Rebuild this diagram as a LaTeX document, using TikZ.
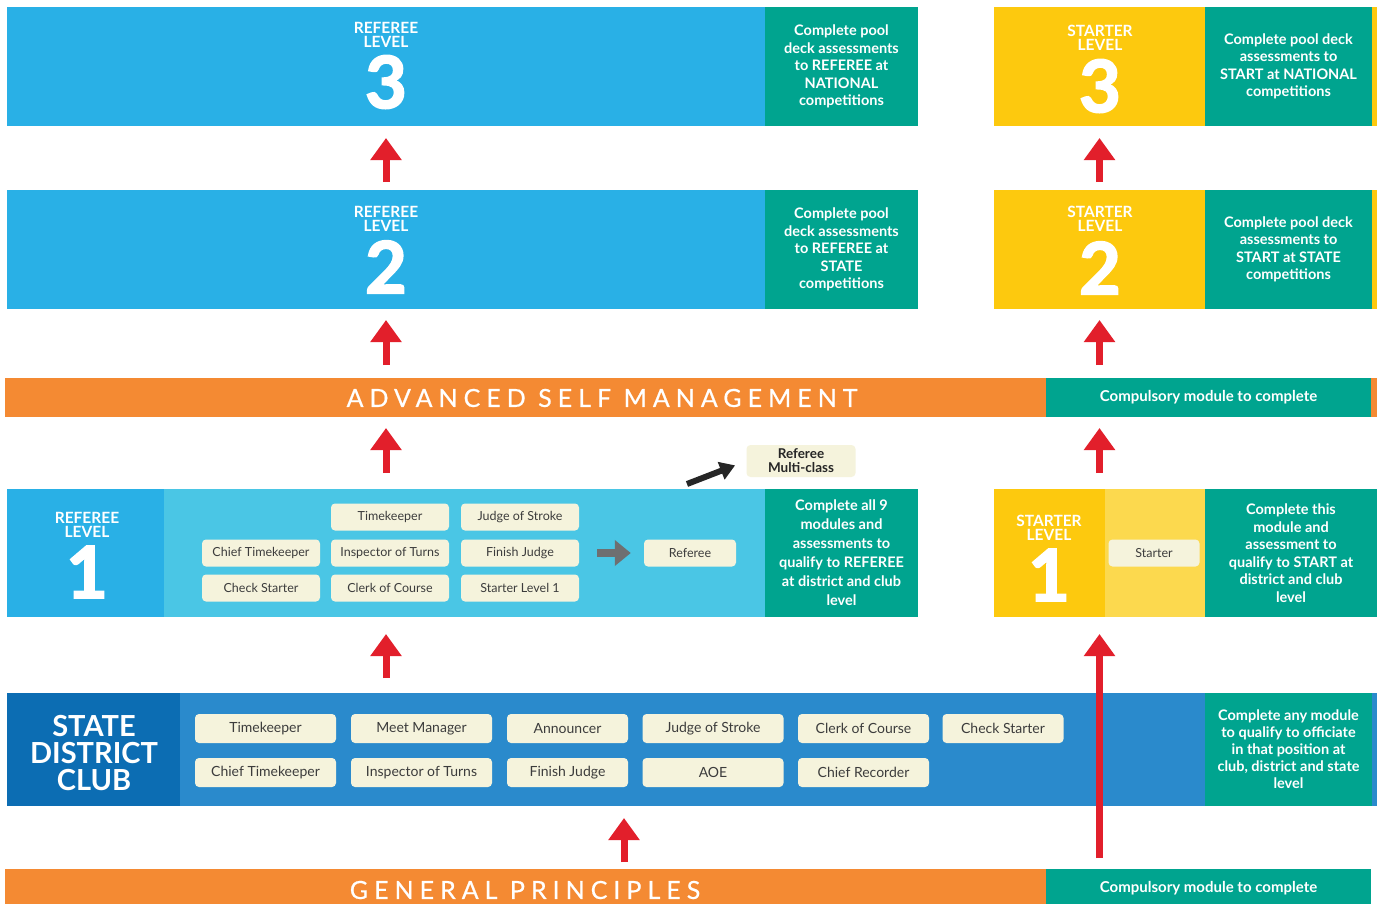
\documentclass[tikz,border=0pt]{standalone}
\usepackage{fontspec}
\setmainfont{Lato}
\newfontfamily\spacedfont{Lato}[LetterSpace=24, FakeBold=0.6]
\newfontfamily\numfont{Lato}[BoldFeatures={FakeBold=2.5}]
\usetikzlibrary{arrows.meta, positioning}

\definecolor{refblue}{HTML}{29B0E6}
\definecolor{reflight}{HTML}{4AC6E5}
\definecolor{tealbox}{HTML}{00A48F}
\definecolor{startyellow}{HTML}{FDC90E}
\definecolor{startlight}{HTML}{FCD94E}
\definecolor{bandorange}{HTML}{F48A33}
\definecolor{sdcdark}{HTML}{0C6DB3}
\definecolor{sdcmid}{HTML}{2A8ACC}
\definecolor{modcream}{HTML}{F5F3DC}
\definecolor{arrowred}{HTML}{E21F2B}
\definecolor{nextgray}{HTML}{6E6F71}
\definecolor{modtext}{HTML}{3C3C3C}

\tikzset{
  band/.style={draw=none, inner sep=0pt, outer sep=0pt},
  tealnote/.style={band, fill=tealbox, text=white, align=center,
    font=\bfseries\fontsize{14.5}{17.5}\selectfont},
  levelhead/.style={text=white, align=center, inner sep=0pt,
    font=\bfseries\fontsize{15.5}{14}\selectfont},
  levelnum/.style={text=white, inner sep=0pt, font=\numfont\bfseries\fontsize{72}{72}\selectfont},
  bandtitle/.style={text=white, inner sep=0pt, font=\spacedfont\fontsize{25}{25}\selectfont},
  module/.style={fill=modcream, rounded corners=4pt, inner sep=0pt, text=modtext,
    minimum width=118pt, minimum height=27pt, font=\fontsize{12.5}{14}\selectfont},
  sdcmodule/.style={module, minimum width=141pt, minimum height=29pt,
    font=\fontsize{14}{15}\selectfont},
  uparrow/.style={draw=arrowred, line width=7pt, -{Triangle[width=30pt,length=22pt]}},
  nextarrow/.style={draw=nextgray, line width=8pt, -{Triangle[width=25pt,length=16pt]}},
  mcarrow/.style={draw=black!85, line width=6pt, -{Triangle[width=18pt,length=15pt]}},
}

\begin{document}
\begin{tikzpicture}[x=1pt, y=-1pt]

	\clip (0,0) rectangle (1380,903);
	\fill[white] (0,0) rectangle (1380,903);

	% referee level 3 (top left)
	\node[band, fill=refblue, minimum width=758pt, minimum height=119pt] (ref3) at (386,66.5) {};
	\node[tealnote, minimum width=153pt, minimum height=119pt, right=0pt of ref3] (ref3note)
		{Complete pool\\deck assessments\\to REFEREE at\\NATIONAL\\competitions};
	\node[levelhead] (ref3head) at (386,35) {REFEREE\\LEVEL};
	\node[levelnum] (ref3num) at (386,82) {3};

	% starter level 3 (top right)
	\fill[startyellow] (1368,7) rectangle (1377,126);
	\node[band, fill=startyellow, minimum width=211pt, minimum height=119pt] (st3) at (1099.5,66.5) {};
	\node[tealnote, minimum width=167pt, minimum height=119pt, right=0pt of st3] (st3note)
		{Complete pool deck\\assessments to\\START at NATIONAL\\competitions};
	\node[levelhead] (st3head) at (1100,38) {STARTER\\LEVEL};
	\node[levelnum] (st3num) at (1100,86) {3};

	% referee level 2
	\node[band, fill=refblue, minimum width=758pt, minimum height=119pt] (ref2) at (386,249.5) {};
	\node[tealnote, minimum width=153pt, minimum height=119pt, right=0pt of ref2] (ref2note)
		{Complete pool\\deck assessments\\to REFEREE at\\STATE\\competitions};
	\node[levelhead] (ref2head) at (386,219) {REFEREE\\LEVEL};
	\node[levelnum] (ref2num) at (386,267) {2};

	% starter level 2
	\fill[startyellow] (1368,190) rectangle (1377,309);
	\node[band, fill=startyellow, minimum width=211pt, minimum height=119pt] (st2) at (1099.5,249.5) {};
	\node[tealnote, minimum width=167pt, minimum height=119pt, right=0pt of st2] (st2note)
		{Complete pool deck\\assessments to\\START at STATE\\competitions};
	\node[levelhead] (st2head) at (1100,219) {STARTER\\LEVEL};
	\node[levelnum] (st2num) at (1100,268) {2};

	% advanced self management band
	\fill[bandorange] (1368,378) rectangle (1377,417);
	\node[band, fill=bandorange, minimum width=1041pt, minimum height=39pt] (asm) at (525.5,397.5) {};
	\node[band, fill=tealbox, minimum width=325pt, minimum height=39pt, right=0pt of asm,
		text=white, font=\bfseries\fontsize{15}{16}\selectfont] (asmnote) {Compulsory module to complete};
	\node[bandtitle] (asmtitle) at (602,398) {ADVANCED SELF MANAGEMENT};

	% referee level 1
	\node[band, fill=reflight, minimum width=758pt, minimum height=128pt] (ref1) at (386,553) {};
	\node[band, fill=refblue, minimum width=157pt, minimum height=128pt, anchor=west] (ref1side) at (ref1.west) {};
	\node[tealnote, minimum width=153pt, minimum height=128pt, right=0pt of ref1,
		font=\bfseries\fontsize{14.5}{19}\selectfont] (ref1note)
		{Complete all 9\\modules and\\assessments to\\qualify to REFEREE\\at district and club\\level};
	\node[levelhead] (ref1head) at (87,525) {REFEREE\\LEVEL};
	\node[levelnum] (ref1num) at (87,572) {1};

	% level 1 modules
	\node[module] (l1time) at (390,517) {Timekeeper};
	\node[module] (l1stroke) at (520,517) {Judge of Stroke};
	\node[module] (l1chief) at (261,553) {Chief Timekeeper};
	\node[module] (l1turns) at (390,553) {Inspector of Turns};
	\node[module] (l1finish) at (520,553) {Finish Judge};
	\node[module] (l1check) at (261,588) {Check Starter};
	\node[module] (l1clerk) at (390,588) {Clerk of Course};
	\node[module] (l1starter) at (520,588) {Starter Level 1};
	\node[module, minimum width=92pt] (l1referee) at (690,553) {Referee};
	\draw[nextarrow, shorten <=18pt, shorten >=13pt] (l1finish.east) -- (l1referee.west);

	% multi-class
	\node[module, minimum width=109pt, minimum height=32pt, text=black!85,
		font=\bfseries\fontsize{13.5}{14}\selectfont, align=center] (multiclass) at (801,461) {Referee\\Multi-class};
	\coordinate (mcfoot) at (687,484);
	\draw[mcarrow, shorten >=12pt] (mcfoot) -- (multiclass.west);

	% starter level 1
	\node[band, fill=startlight, minimum width=211pt, minimum height=128pt] (st1) at (1099.5,553) {};
	\node[band, fill=startyellow, minimum width=111pt, minimum height=128pt, anchor=west] (st1side) at (st1.west) {};
	\node[tealnote, minimum width=172pt, minimum height=128pt, right=0pt of st1] (st1note)
		{Complete this\\module and\\assessment to\\qualify to START at\\district and club\\level};
	\node[levelhead] (st1head) at (1049,528) {STARTER\\LEVEL};
	\node[levelnum] (st1num) at (1049,575) {1};
	\node[module, minimum width=91pt] (st1starter) at (1154,553) {Starter};

	% state district club band
	\fill[sdcmid] (1368,693) rectangle (1377,806);
	\node[band, fill=sdcmid, minimum width=1198pt, minimum height=113pt] (sdc) at (606,749.5) {};
	\node[band, fill=sdcdark, minimum width=173pt, minimum height=113pt, anchor=west] (sdcside) at (sdc.west) {};
	\node[tealnote, minimum width=167pt, minimum height=113pt, right=0pt of sdc,
		font=\bfseries\fontsize{14.5}{17}\selectfont] (sdcnote)
		{Complete any module\\to qualify to officiate\\in that position at\\club, district and state\\level};
	\node[text=white, align=center, inner sep=0pt,
		font=\bfseries\fontsize{29}{27}\selectfont] (sdchead) at (94,753) {STATE\\DISTRICT\\CLUB};

	% state district club modules
	\node[sdcmodule] (sdctime) at (265.5,728.5) {Timekeeper};
	\node[sdcmodule] (sdcmeet) at (421.5,728.5) {Meet Manager};
	\node[sdcmodule, minimum width=121pt] (sdcannounce) at (567.5,728.5) {Announcer};
	\node[sdcmodule] (sdcstroke) at (713,728.5) {Judge of Stroke};
	\node[sdcmodule, minimum width=131pt] (sdcclerk) at (863.5,728.5) {Clerk of Course};
	\node[sdcmodule, minimum width=121pt] (sdccheck) at (1003,728.5) {Check Starter};
	\node[sdcmodule] (sdcchief) at (265.5,772.5) {Chief Timekeeper};
	\node[sdcmodule] (sdcturns) at (421.5,772.5) {Inspector of Turns};
	\node[sdcmodule, minimum width=121pt] (sdcfinish) at (567.5,772.5) {Finish Judge};
	\node[sdcmodule] (sdcaoe) at (713,772.5) {AOE};
	\node[sdcmodule, minimum width=131pt] (sdcrecorder) at (863.5,772.5) {Chief Recorder};

	% general principles band
	\node[band, fill=bandorange, minimum width=1041pt, minimum height=39pt] (gp) at (525.5,888.5) {};
	\node[band, fill=tealbox, minimum width=325pt, minimum height=39pt, right=0pt of gp,
		text=white, font=\bfseries\fontsize{15}{16}\selectfont] (gpnote) {Compulsory module to complete};
	\node[bandtitle] (gptitle) at (525,890) {GENERAL PRINCIPLES};

	% red arrows (referee path)
	\draw[uparrow, shorten <=8pt, shorten >=12pt] (ref2.north) -- (ref3.south);
	\draw[uparrow, shorten <=13pt, shorten >=11pt] (ref2.south |- asm.north) -- (ref2.south);
	\draw[uparrow, shorten <=16pt, shorten >=11pt] (ref1.north) -- (ref1.north |- asm.south);
	\draw[uparrow, shorten <=15pt, shorten >=17pt] (ref1.south |- sdc.north) -- (ref1.south);
	\coordinate (gparrow) at (624,869);
	\draw[uparrow, shorten <=7pt, shorten >=12pt] (gparrow) -- (gparrow |- sdc.south);

	% red arrows (starter path)
	\draw[uparrow, shorten <=8pt, shorten >=12pt] (st2.north) -- (st3.south);
	\draw[uparrow, shorten <=13pt, shorten >=11pt] (st2.south |- asm.north) -- (st2.south);
	\draw[uparrow, shorten <=16pt, shorten >=11pt] (st1.north) -- (st1.north |- asm.south);
	\draw[uparrow, shorten <=11pt, shorten >=17pt] (st1.south |- gp.north) -- (st1.south);

\end{tikzpicture}
\end{document}
